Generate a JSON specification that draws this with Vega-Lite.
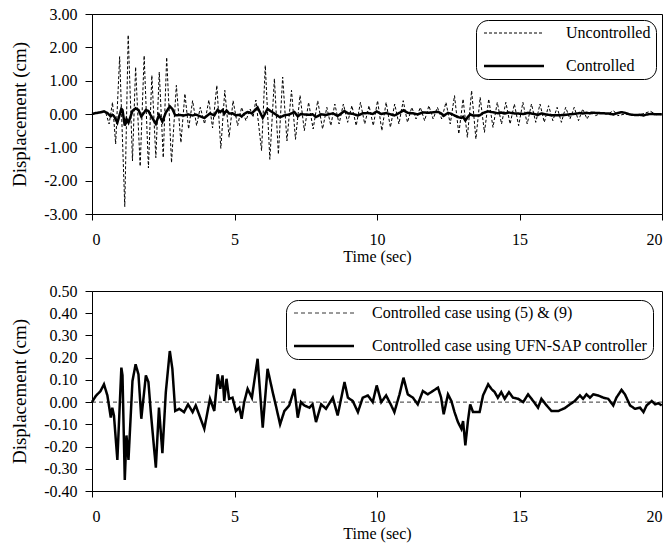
{
  "$schema": "https://vega.github.io/schema/vega-lite/v6.json",
  "padding": {"left": 10, "top": 5, "right": 8, "bottom": 5},
  "config": {
    "font": "Liberation Serif",
    "locale": {"number": {"decimal": ".", "thousands": ",", "grouping": [3], "currency": ["$", ""], "minus": "-"}},
    "view": {"stroke": "black", "strokeWidth": 1},
    "axis": {"grid": false, "domainColor": "black", "tickColor": "black", "labelColor": "black", "titleColor": "black", "labelFont": "Liberation Serif", "titleFont": "Liberation Serif", "labelFontSize": 16, "titleFontSize": 16, "titleFontWeight": "normal", "tickSize": 6, "labelOverlap": false},
    "axisX": {"labelPadding": 11, "titlePadding": 1},
    "axisY": {"labelPadding": 8, "titlePadding": 14, "tickSize": 7, "titleFontSize": 19},
    "legend": {"orient": "top-right", "offset": 6, "strokeColor": "black", "cornerRadius": 12, "fillColor": "white", "padding": 5, "labelFont": "Liberation Serif", "labelFontSize": 16, "labelColor": "black", "symbolType": "M-6,0H6", "symbolStrokeColor": "black", "symbolFillColor": "transparent", "symbolSize": 100, "symbolOffset": 25, "labelOffset": 44, "rowPadding": 17, "labelLimit": 400}
  },
  "datasets": {
    "unc": [
      {"t": 0, "v": 0}, {"t": 0.2, "v": 0.03}, {"t": 0.35, "v": 0.08}, {"t": 0.48, "v": 0.05}, {"t": 0.6, "v": -0.3},
      {"t": 0.72, "v": 0.35}, {"t": 0.83, "v": -0.9}, {"t": 0.97, "v": 1.72}, {"t": 1.15, "v": -2.78}, {"t": 1.27, "v": 2.37},
      {"t": 1.42, "v": -1.41}, {"t": 1.53, "v": 1.41}, {"t": 1.69, "v": -1.57}, {"t": 1.83, "v": 1.75}, {"t": 1.98, "v": -1.62},
      {"t": 2.1, "v": 1.16}, {"t": 2.24, "v": -1.31}, {"t": 2.36, "v": 1.26}, {"t": 2.5, "v": -1.31}, {"t": 2.62, "v": 1.7},
      {"t": 2.79, "v": -1.46}, {"t": 2.96, "v": 0.86}, {"t": 3.12, "v": -0.86}, {"t": 3.26, "v": 0.61}, {"t": 3.39, "v": -0.45},
      {"t": 3.53, "v": 0.4}, {"t": 3.67, "v": -0.35}, {"t": 3.8, "v": 0.2}, {"t": 3.95, "v": -0.3}, {"t": 4.1, "v": 0.42},
      {"t": 4.23, "v": -0.42}, {"t": 4.38, "v": 0.86}, {"t": 4.52, "v": -1.03}, {"t": 4.66, "v": 0.71}, {"t": 4.81, "v": -0.7},
      {"t": 4.95, "v": 0.4}, {"t": 5.11, "v": -0.35}, {"t": 5.25, "v": 0.2}, {"t": 5.4, "v": -0.2}, {"t": 5.55, "v": 0.15},
      {"t": 5.65, "v": -0.1}, {"t": 5.75, "v": 0.42}, {"t": 5.95, "v": -1.1}, {"t": 6.08, "v": 1.46}, {"t": 6.24, "v": -1.36},
      {"t": 6.4, "v": 1.06}, {"t": 6.54, "v": -1.21}, {"t": 6.69, "v": 1.11}, {"t": 6.84, "v": -0.81}, {"t": 7.0, "v": 0.71},
      {"t": 7.14, "v": -0.76}, {"t": 7.3, "v": 0.56}, {"t": 7.45, "v": -0.5}, {"t": 7.6, "v": 0.35}, {"t": 7.76, "v": -0.45},
      {"t": 7.92, "v": 0.4}, {"t": 8.09, "v": -0.45}, {"t": 8.24, "v": 0.2}, {"t": 8.38, "v": -0.35}, {"t": 8.52, "v": 0.3},
      {"t": 8.67, "v": -0.3}, {"t": 8.82, "v": 0.3}, {"t": 8.97, "v": -0.25}, {"t": 9.12, "v": 0.25}, {"t": 9.27, "v": -0.35},
      {"t": 9.42, "v": 0.35}, {"t": 9.57, "v": -0.3}, {"t": 9.72, "v": 0.25}, {"t": 9.87, "v": -0.35}, {"t": 10.02, "v": 0.4},
      {"t": 10.17, "v": -0.5}, {"t": 10.32, "v": 0.35}, {"t": 10.47, "v": -0.4}, {"t": 10.62, "v": 0.3}, {"t": 10.77, "v": -0.3},
      {"t": 10.92, "v": 0.4}, {"t": 11.07, "v": -0.25}, {"t": 11.22, "v": 0.2}, {"t": 11.37, "v": -0.15}, {"t": 11.52, "v": 0.2},
      {"t": 11.67, "v": -0.2}, {"t": 11.82, "v": 0.25}, {"t": 11.97, "v": -0.15}, {"t": 12.12, "v": 0.2}, {"t": 12.27, "v": -0.15},
      {"t": 12.42, "v": 0.35}, {"t": 12.57, "v": -0.3}, {"t": 12.72, "v": 0.55}, {"t": 12.87, "v": -0.6}, {"t": 13.02, "v": 0.45},
      {"t": 13.17, "v": -0.7}, {"t": 13.32, "v": 0.7}, {"t": 13.47, "v": -0.75}, {"t": 13.62, "v": 0.5}, {"t": 13.77, "v": -0.55},
      {"t": 13.92, "v": 0.45}, {"t": 14.07, "v": -0.4}, {"t": 14.22, "v": 0.35}, {"t": 14.37, "v": -0.3}, {"t": 14.52, "v": 0.35},
      {"t": 14.67, "v": -0.3}, {"t": 14.82, "v": 0.3}, {"t": 14.97, "v": -0.35}, {"t": 15.12, "v": 0.35}, {"t": 15.27, "v": -0.3},
      {"t": 15.42, "v": 0.3}, {"t": 15.57, "v": -0.25}, {"t": 15.72, "v": 0.3}, {"t": 15.87, "v": -0.25}, {"t": 16.02, "v": 0.25},
      {"t": 16.17, "v": -0.2}, {"t": 16.32, "v": 0.2}, {"t": 16.47, "v": -0.25}, {"t": 16.62, "v": 0.2}, {"t": 16.77, "v": -0.15},
      {"t": 16.92, "v": 0.2}, {"t": 17.07, "v": -0.2}, {"t": 17.22, "v": 0.15}, {"t": 17.37, "v": -0.15}, {"t": 17.52, "v": 0.1},
      {"t": 17.67, "v": -0.05}, {"t": 17.85, "v": 0.02}, {"t": 18.1, "v": 0.0}, {"t": 18.3, "v": 0.1}, {"t": 18.45, "v": -0.05},
      {"t": 18.7, "v": 0.0}, {"t": 19.0, "v": -0.03}, {"t": 19.3, "v": 0.0}, {"t": 19.6, "v": 0.08}, {"t": 19.8, "v": -0.02},
      {"t": 20.0, "v": 0.0}
    ],
    "ctl": [
      {"t": 0, "v": 0}, {"t": 0.13, "v": 0.027}, {"t": 0.3, "v": 0.05}, {"t": 0.42, "v": 0.08}, {"t": 0.54, "v": 0.03},
      {"t": 0.66, "v": -0.07}, {"t": 0.71, "v": -0.025}, {"t": 0.77, "v": -0.06}, {"t": 0.89, "v": -0.26}, {"t": 1.03, "v": 0.155},
      {"t": 1.07, "v": 0.12}, {"t": 1.15, "v": -0.35}, {"t": 1.21, "v": -0.15}, {"t": 1.28, "v": -0.26}, {"t": 1.42, "v": 0.095},
      {"t": 1.53, "v": 0.17}, {"t": 1.63, "v": 0.125}, {"t": 1.73, "v": -0.075}, {"t": 1.89, "v": 0.12}, {"t": 1.98, "v": 0.09},
      {"t": 2.06, "v": -0.04}, {"t": 2.24, "v": -0.295}, {"t": 2.35, "v": -0.025}, {"t": 2.47, "v": -0.23}, {"t": 2.59, "v": 0.045},
      {"t": 2.73, "v": 0.23}, {"t": 2.82, "v": 0.15}, {"t": 2.92, "v": -0.04}, {"t": 3.06, "v": -0.03}, {"t": 3.23, "v": -0.045},
      {"t": 3.37, "v": -0.01}, {"t": 3.53, "v": -0.045}, {"t": 3.64, "v": -0.015}, {"t": 3.94, "v": -0.12}, {"t": 4.14, "v": 0.015},
      {"t": 4.29, "v": -0.04}, {"t": 4.41, "v": 0.125}, {"t": 4.5, "v": 0.06}, {"t": 4.58, "v": 0.12}, {"t": 4.64, "v": 0.005},
      {"t": 4.72, "v": 0.105}, {"t": 4.81, "v": 0.015}, {"t": 4.93, "v": 0.02}, {"t": 5.05, "v": -0.04}, {"t": 5.17, "v": -0.025},
      {"t": 5.25, "v": -0.075}, {"t": 5.34, "v": 0}, {"t": 5.46, "v": 0.06}, {"t": 5.61, "v": 0.02}, {"t": 5.81, "v": 0.195},
      {"t": 5.99, "v": -0.115}, {"t": 6.16, "v": 0.15}, {"t": 6.34, "v": 0.045}, {"t": 6.45, "v": -0.015}, {"t": 6.6, "v": -0.1},
      {"t": 6.75, "v": -0.04}, {"t": 6.92, "v": -0.015}, {"t": 7.1, "v": 0.06}, {"t": 7.22, "v": -0.07}, {"t": 7.33, "v": 0},
      {"t": 7.45, "v": -0.015}, {"t": 7.63, "v": -0.025}, {"t": 7.74, "v": -0.01}, {"t": 7.86, "v": -0.09}, {"t": 8.04, "v": -0.01},
      {"t": 8.21, "v": -0.03}, {"t": 8.45, "v": 0.02}, {"t": 8.62, "v": -0.06}, {"t": 8.86, "v": 0.09}, {"t": 8.98, "v": 0.02},
      {"t": 9.15, "v": 0.005}, {"t": 9.33, "v": -0.045}, {"t": 9.5, "v": 0.02}, {"t": 9.68, "v": 0.03}, {"t": 9.85, "v": 0},
      {"t": 9.99, "v": 0.075}, {"t": 10.15, "v": 0}, {"t": 10.32, "v": 0.03}, {"t": 10.5, "v": -0.015}, {"t": 10.61, "v": -0.045},
      {"t": 10.79, "v": 0.035}, {"t": 10.93, "v": 0.11}, {"t": 11.08, "v": 0.035}, {"t": 11.26, "v": 0.02}, {"t": 11.43, "v": -0.01},
      {"t": 11.61, "v": 0.05}, {"t": 11.78, "v": 0.035}, {"t": 11.96, "v": 0.05}, {"t": 12.14, "v": 0.065}, {"t": 12.25, "v": 0.02},
      {"t": 12.34, "v": -0.055}, {"t": 12.49, "v": 0.035}, {"t": 12.61, "v": 0.005}, {"t": 12.72, "v": -0.045}, {"t": 12.84, "v": -0.09},
      {"t": 12.96, "v": -0.12}, {"t": 13.02, "v": -0.085}, {"t": 13.1, "v": -0.195}, {"t": 13.19, "v": -0.085}, {"t": 13.27, "v": -0.01},
      {"t": 13.37, "v": -0.045}, {"t": 13.6, "v": -0.045}, {"t": 13.72, "v": 0.03}, {"t": 13.9, "v": 0.08}, {"t": 14.01, "v": 0.06},
      {"t": 14.13, "v": 0.045}, {"t": 14.24, "v": 0.02}, {"t": 14.36, "v": 0.045}, {"t": 14.48, "v": 0.015}, {"t": 14.63, "v": 0.045},
      {"t": 14.77, "v": 0.02}, {"t": 14.95, "v": 0.015}, {"t": 15.13, "v": 0}, {"t": 15.3, "v": 0.035}, {"t": 15.48, "v": 0.005},
      {"t": 15.65, "v": -0.025}, {"t": 15.77, "v": 0.015}, {"t": 15.95, "v": -0.015}, {"t": 16.12, "v": -0.04}, {"t": 16.36, "v": -0.04},
      {"t": 16.59, "v": -0.027}, {"t": 16.77, "v": -0.01}, {"t": 16.94, "v": 0.005}, {"t": 17.12, "v": 0.03}, {"t": 17.23, "v": 0.015},
      {"t": 17.35, "v": 0.035}, {"t": 17.47, "v": 0.02}, {"t": 17.59, "v": 0.035}, {"t": 17.76, "v": 0.03}, {"t": 17.94, "v": 0.02},
      {"t": 18.11, "v": 0.015}, {"t": 18.29, "v": -0.015}, {"t": 18.4, "v": 0.02}, {"t": 18.58, "v": 0.055}, {"t": 18.7, "v": 0.035},
      {"t": 18.88, "v": -0.015}, {"t": 19.05, "v": -0.03}, {"t": 19.23, "v": -0.025}, {"t": 19.35, "v": -0.045}, {"t": 19.46, "v": -0.015},
      {"t": 19.64, "v": 0.005}, {"t": 19.76, "v": -0.01}, {"t": 19.87, "v": -0.005}, {"t": 19.99, "v": -0.015}
    ],
    "c59": [
      {"t": 0, "v": 0}, {"t": 5, "v": 0}, {"t": 10, "v": 0}, {"t": 15, "v": 0}, {"t": 20, "v": 0}
    ]
  },
  "spacing": 17,
  "resolve": {
    "scale": {"strokeDash": "independent", "strokeWidth": "independent"},
    "legend": {"strokeDash": "independent", "strokeWidth": "independent"}
  },
  "vconcat": [
    {
      "width": 570,
      "height": 200,
      "encoding": {
        "x": {"field": "t", "type": "quantitative", "scale": {"domain": [0, 20], "nice": false}, "axis": {"values": [0, 5, 10, 15, 20], "title": "Time (sec)", "labelOverlap": false}},
        "y": {"field": "v", "type": "quantitative", "scale": {"domain": [-3, 3], "nice": false}, "axis": {"values": [-3, -2, -1, 0, 1, 2, 3], "tickCount": 7, "format": ".2f", "title": "Displacement (cm)", "labelOverlap": false}}
      },
      "layer": [
        {
          "data": {"name": "unc"},
          "mark": {"type": "line", "color": "black", "interpolate": "linear"},
          "encoding": {
            "strokeDash": {"datum": "Uncontrolled", "type": "nominal", "scale": {"domain": ["Uncontrolled", "Controlled"], "range": [[3, 2], [1, 0]]}, "legend": {"title": null, "labelOffset": 44}},
            "strokeWidth": {"datum": "Uncontrolled", "type": "nominal", "scale": {"domain": ["Uncontrolled", "Controlled"], "range": [1, 2.5]}, "legend": {"title": null}}
          }
        },
        {
          "data": {"name": "ctl"},
          "mark": {"type": "line", "color": "black", "interpolate": "linear"},
          "encoding": {
            "strokeDash": {"datum": "Controlled", "type": "nominal"},
            "strokeWidth": {"datum": "Controlled", "type": "nominal"}
          }
        }
      ]
    },
    {
      "width": 570,
      "height": 200,
      "encoding": {
        "x": {"field": "t", "type": "quantitative", "scale": {"domain": [0, 20], "nice": false}, "axis": {"values": [0, 5, 10, 15, 20], "title": "Time (sec)", "labelOverlap": false}},
        "y": {"field": "v", "type": "quantitative", "scale": {"domain": [-0.4, 0.5], "nice": false}, "axis": {"values": [-0.4, -0.3, -0.2, -0.1, 0, 0.1, 0.2, 0.3, 0.4, 0.5], "tickCount": 10, "format": ".2f", "title": "Displacement (cm)", "labelOverlap": false}}
      },
      "layer": [
        {
          "data": {"name": "c59"},
          "mark": {"type": "line", "color": "black"},
          "encoding": {
            "strokeDash": {"datum": "Controlled case using (5) & (9)", "type": "nominal", "scale": {"domain": ["Controlled case using (5) & (9)", "Controlled case using UFN-SAP controller"], "range": [[4, 3], [1, 0]]}, "legend": {"title": null, "labelOffset": 40, "offset": 9}},
            "strokeWidth": {"datum": "Controlled case using (5) & (9)", "type": "nominal", "scale": {"domain": ["Controlled case using (5) & (9)", "Controlled case using UFN-SAP controller"], "range": [0.8, 2.5]}, "legend": {"title": null}}
          }
        },
        {
          "data": {"name": "ctl"},
          "mark": {"type": "line", "color": "black"},
          "encoding": {
            "strokeDash": {"datum": "Controlled case using UFN-SAP controller", "type": "nominal"},
            "strokeWidth": {"datum": "Controlled case using UFN-SAP controller", "type": "nominal"}
          }
        }
      ]
    }
  ]
}
